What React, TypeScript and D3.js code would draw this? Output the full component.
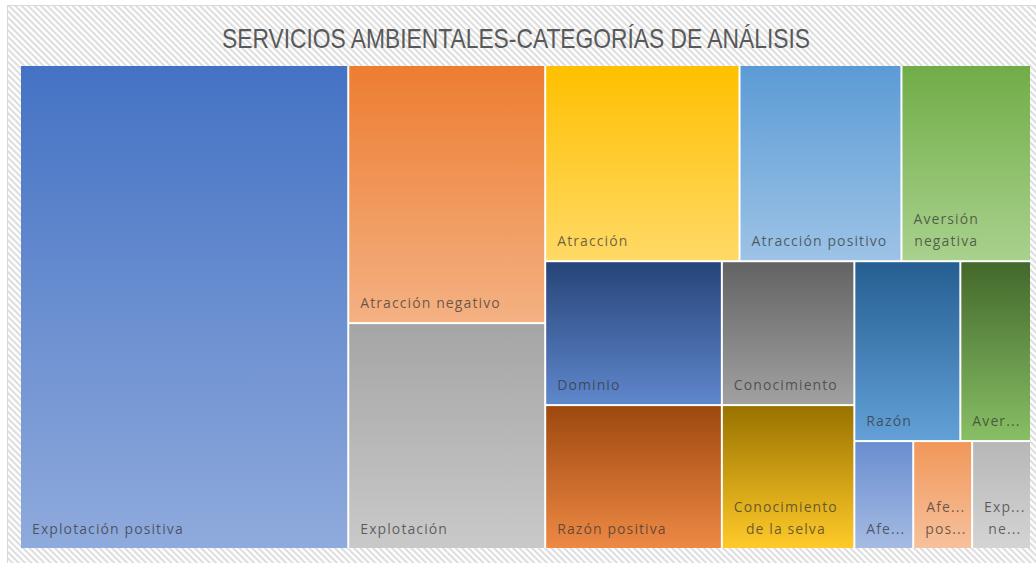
import React, { useEffect, useRef } from 'react';
import * as d3 from 'd3';

const title = 'SERVICIOS AMBIENTALES-CATEGORÍAS DE ANÁLISIS';

// categories in the order the chart lays them out (largest first)
const categories = [
  'Explotación positiva',
  'Atracción negativo',
  'Explotación',
  'Atracción',
  'Atracción positivo',
  'Aversión negativa',
  'Dominio',
  'Razón positiva',
  'Conocimiento',
  'Conocimiento de la selva',
  'Razón',
  'Aver...',
  'Afe...',
  'Afe... pos...',
  'Exp... ne...',
];
const counts = [25, 8, 7, 6, 5, 4, 4, 4, 3, 3, 3, 2, 1, 1, 1];
const palette = [
  '#4472C4', '#ED7D31', '#A5A5A5', '#FFC000', '#5B9BD5', '#70AD47',
  '#264478', '#9E480E', '#636363', '#997300', '#255E91', '#43682B',
  '#698ED0', '#F1975A', '#B7B7B7',
];

// how many cells go in each strip of the layout
const stripSizes = [1, 2, 3, 2, 2, 2, 1, 1, 1];

const W = 1036;
const H = 563;
const plot = { left: 21, top: 66, width: 1009, height: 482 };

function stripTile(parent: any, x0: number, y0: number, x1: number, y1: number) {
  const nodes = parent.children;
  let value = parent.value;
  let i = 0;
  for (const size of stripSizes) {
    const kids = nodes.slice(i, i + size);
    if (!kids.length) break;
    const sum = d3.sum(kids, (d: any) => d.value);
    const row = { children: kids, value: sum };
    const dx = x1 - x0, dy = y1 - y0;
    if (dx < dy * 1.05) {
      const yy = y0 + dy * sum / value;
      d3.treemapDice(row as any, x0, y0, x1, yy);
      y0 = yy;
    } else {
      const xx = x0 + dx * sum / value;
      d3.treemapSlice(row as any, x0, y0, xx, y1);
      x0 = xx;
    }
    value -= sum;
    i += size;
  }
}

const labelFont = { family: '"Open Sans", sans-serif', size: 14, spacing: 1.1 };

export default function App() {
  const svgRef = useRef<SVGSVGElement>(null);

  useEffect(() => {
    const svg = d3.select(svgRef.current);
    svg.selectAll('*').remove();

    const defs = svg.append('defs');
    const hatch = defs.append('pattern')
      .attr('id', 'hatch')
      .attr('patternUnits', 'userSpaceOnUse')
      .attr('width', 4.5)
      .attr('height', 4.5)
      .attr('patternTransform', 'rotate(-45)');
    hatch.append('rect').attr('width', 4.5).attr('height', 4.5).attr('fill', '#ffffff');
    hatch.append('line')
      .attr('x1', 2.25).attr('y1', 0).attr('x2', 2.25).attr('y2', 4.5)
      .attr('stroke', '#d6d6d6').attr('stroke-width', 1.7);

    // chart area
    svg.append('rect')
      .attr('x', 7.5).attr('y', 5.5)
      .attr('width', 1100).attr('height', 600)
      .attr('fill', 'url(#hatch)')
      .attr('stroke', '#d9d9d9');

    svg.append('text')
      .attr('x', 222).attr('y', 48)
      .attr('font-family', '"Liberation Sans Narrow", "Liberation Sans", sans-serif')
      .attr('font-size', 28)
      .attr('textLength', 588)
      .attr('lengthAdjust', 'spacingAndGlyphs')
      .attr('fill', '#595959')
      .text(title);

    const leaves = categories.map((name, i) => ({ name, value: counts[i], color: palette[i] }));
    const root = d3.hierarchy<any>({ children: leaves }).sum((d: any) => d.value ?? 0);
    d3.treemap<any>()
      .tile(stripTile as any)
      .size([plot.width, plot.height])
      .paddingInner(2)(root);

    const g = svg.append('g').attr('transform', `translate(${plot.left},${plot.top})`);
    g.append('rect')
      .attr('width', plot.width).attr('height', plot.height)
      .attr('fill', '#ffffff');

    root.leaves().forEach((leaf: any, i) => {
      const base = d3.hsl(leaf.data.color);
      const light = d3.hsl(base.h, base.s, base.l + (1 - base.l) * 0.4);
      const grad = defs.append('linearGradient')
        .attr('id', `cell${i}`)
        .attr('x1', 0).attr('y1', 0).attr('x2', 0).attr('y2', 1);
      grad.append('stop').attr('offset', 0).attr('stop-color', base.formatHex());
      grad.append('stop').attr('offset', 1).attr('stop-color', light.formatHex());
    });

    const cells = g.selectAll('g.cell')
      .data(root.leaves())
      .join('g')
      .attr('class', 'cell')
      .attr('transform', (d: any) => `translate(${d.x0},${d.y0})`);

    cells.append('rect')
      .attr('width', (d: any) => d.x1 - d.x0)
      .attr('height', (d: any) => d.y1 - d.y0)
      .attr('fill', (_d, i) => `url(#cell${i})`);

    // text measuring helper
    const probe = svg.append('text')
      .attr('font-family', labelFont.family)
      .attr('font-size', labelFont.size)
      .attr('letter-spacing', labelFont.spacing)
      .attr('visibility', 'hidden');
    const measure = (s: string) => {
      probe.text(s);
      return (probe.node() as SVGTextElement).getComputedTextLength();
    };

    const pad = 11;
    const lineH = 22;
    cells.each(function (d: any) {
      const w = d.x1 - d.x0;
      const h = d.y1 - d.y0;
      const maxW = w - pad * 2;
      const words = d.data.name.split(' ');
      const lines: string[] = [];
      let cur = '';
      for (const word of words) {
        const t = cur ? `${cur} ${word}` : word;
        if (!cur || measure(t) <= maxW) cur = t;
        else { lines.push(cur); cur = word; }
      }
      lines.push(cur);
      const blockW = d3.max(lines, measure) ?? 0;
      const text = d3.select(this).append('text')
        .attr('font-family', labelFont.family)
        .attr('font-size', labelFont.size)
        .attr('letter-spacing', labelFont.spacing)
        .attr('fill', '#333333')
        .attr('fill-opacity', 0.72)
        .attr('text-anchor', 'middle');
      lines.forEach((line, k) => {
        text.append('tspan')
          .attr('x', pad + blockW / 2)
          .attr('y', h - 14 - (lines.length - 1 - k) * lineH)
          .text(line);
      });
    });
    probe.remove();
  }, []);

  return (
    <svg
      ref={svgRef}
      width={W}
      height={H}
      style={{ position: 'absolute', left: 0, top: 0 }}
    />
  );
}
